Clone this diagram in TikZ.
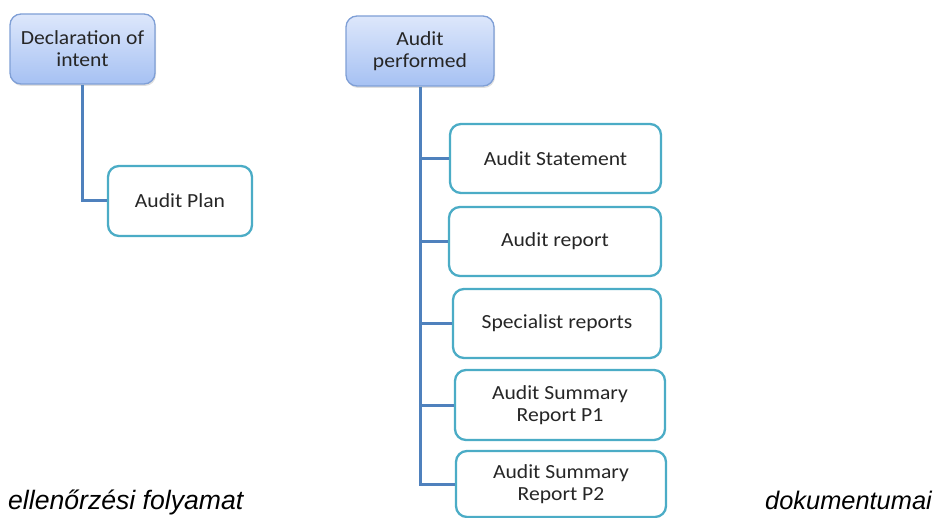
\documentclass[tikz,border=0pt]{standalone}
\usepackage{fontspec}
\usetikzlibrary{shadows}
\newfontfamily\boxfont{Carlito}[FakeStretch=1.08]
\newfontfamily\capfont{Liberation Sans}
\definecolor{conn}{HTML}{4F81BD}
\definecolor{teal}{HTML}{4BACC6}
\definecolor{bluebd}{HTML}{7F9FD6}
\definecolor{bluetop}{HTML}{DDE7FB}
\definecolor{bluebot}{HTML}{A6C1F3}
\begin{document}
\begin{tikzpicture}[x=1pt,y=-1pt,
  boxtext/.style={font=\boxfont\fontsize{20}{22}\selectfont, align=center, inner sep=0pt, text=black!85},
  topbox/.style={boxtext, draw=bluebd, line width=1.3pt, rounded corners=11pt,
     top color=bluetop, bottom color=bluebot,
     drop shadow={opacity=0.25, shadow xshift=1pt, shadow yshift=-2pt}},
  docbox/.style={boxtext, draw=teal, line width=2.3pt, rounded corners=11pt, fill=white},
  conline/.style={draw=conn, line width=3pt},
  captext/.style={font=\capfont\itshape\fontsize{26.6}{29}\selectfont, inner sep=0pt, anchor=base west}
]
\useasboundingbox (0,0) rectangle (944,518);

\node[topbox, minimum width=145pt, minimum height=70pt] (decl) at (82.5,49) {Declaration of\\intent};
\node[docbox, minimum width=144pt, minimum height=70pt] (plan) at (180,201) {Audit Plan};

\node[topbox, minimum width=148pt, minimum height=70pt] (perf) at (420,51) {Audit\\performed};
\node[docbox, minimum width=211pt, minimum height=69pt] (stmt) at (555.5,158.5) {Audit Statement};
\node[docbox, minimum width=212pt, minimum height=69pt] (rep) at (555,241.5) {Audit report};
\node[docbox, minimum width=208pt, minimum height=69pt] (spec) at (557,323.5) {Specialist reports};
\node[docbox, minimum width=210pt, minimum height=70pt] (sum1) at (560,405) {Audit Summary\\Report P1};
\node[docbox, minimum width=210pt, minimum height=66pt] (sum2) at (561,484) {Audit Summary\\Report P2};

\coordinate (trunkend) at (perf.south |- sum2.west);

\draw[conline] (decl.south) |- (plan.west);
\draw[conline] (perf.south) -- ([yshift=-1.5pt]trunkend);
\draw[conline] (perf.south |- stmt.west) -- (stmt.west);
\draw[conline] (perf.south |- rep.west) -- (rep.west);
\draw[conline] (perf.south |- spec.west) -- (spec.west);
\draw[conline] (perf.south |- sum1.west) -- (sum1.west);
\draw[conline] (trunkend) -- (sum2.west);

\node[captext] (cap1) at (8,509) {ellenőrzési folyamat};
\node[captext, font=\capfont\itshape\fontsize{25.4}{28}\selectfont] (cap2) at (765,509) {dokumentumai};
\end{tikzpicture}
\end{document}
